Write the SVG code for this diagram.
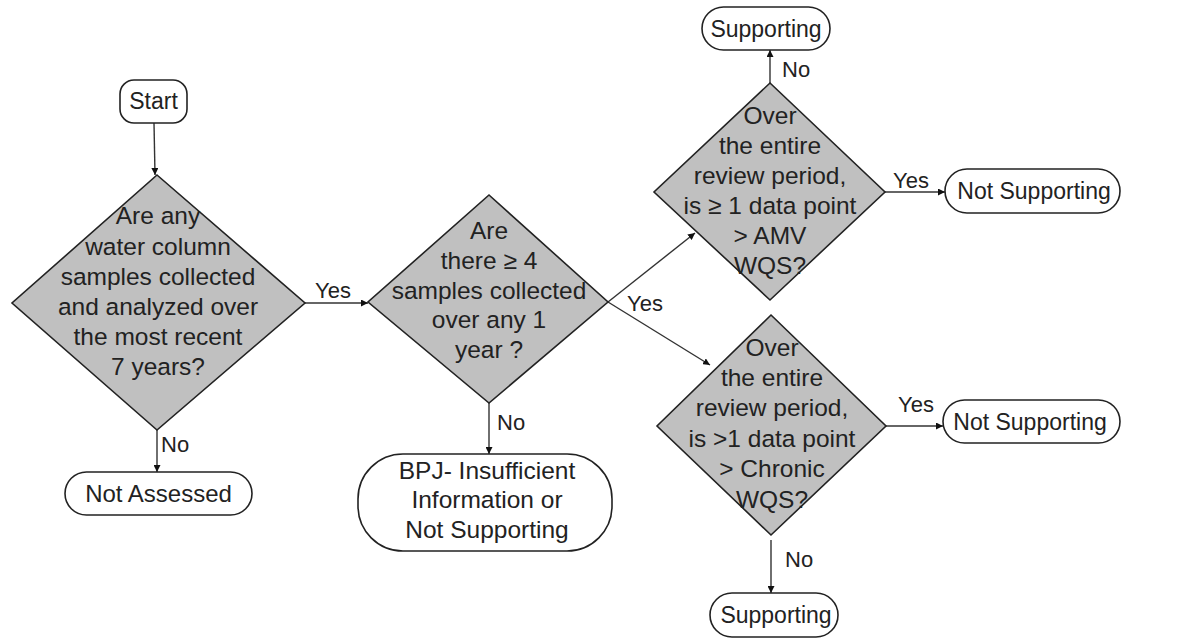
<svg xmlns="http://www.w3.org/2000/svg" width="1182" height="639" viewBox="0 0 1182 639">
<style>
.t{font-family:"Liberation Sans",Arial,sans-serif;fill:#222;text-anchor:middle}
.dt{font-size:24.5px}
.tt{font-size:23px}
.lb{font-family:"Liberation Sans",Arial,sans-serif;fill:#222;font-size:22px}
.dia{fill:#c0c0c0;stroke:#222;stroke-width:1.6}
.term{fill:#fff;stroke:#222;stroke-width:1.6}
.con{stroke:#333;stroke-width:1.4;fill:none;marker-end:url(#ah)}
</style>
<defs>
<marker id="ah" viewBox="0 0 10 10" refX="10" refY="5" markerWidth="7" markerHeight="7" markerUnits="userSpaceOnUse" orient="auto">
<path d="M0,0 L10,5 L0,10 z" fill="#111"/>
</marker>
</defs>
<rect width="1182" height="639" fill="#fff"/>
<g id="connectors">
<line class="con" x1="154" y1="123" x2="155" y2="175"/>
<line class="con" x1="157" y1="430" x2="157" y2="472"/>
<line class="con" x1="305" y1="303" x2="368" y2="303"/>
<line class="con" x1="489" y1="403" x2="489" y2="454"/>
<line class="con" x1="608" y1="302" x2="695" y2="233"/>
<line class="con" x1="608" y1="302" x2="710" y2="365"/>
<line class="con" x1="770" y1="83" x2="770" y2="50"/>
<line class="con" x1="885" y1="192" x2="945" y2="192"/>
<line class="con" x1="886" y1="426" x2="943" y2="426"/>
<line class="con" x1="771" y1="540" x2="771" y2="593"/>
<text class="lb" x="161" y="452">No</text>
<text class="lb" x="315" y="298">Yes</text>
<text class="lb" x="497" y="430">No</text>
<text class="lb" x="627" y="311">Yes</text>
<text class="lb" x="782" y="77">No</text>
<text class="lb" x="893" y="188">Yes</text>
<text class="lb" x="898" y="412">Yes</text>
<text class="lb" x="785" y="567">No</text>
</g>
<g id="start">
<rect class="term" x="120" y="80" width="67" height="43" rx="14"/>
<text class="t tt" x="153.5" y="109">Start</text>
</g>
<g id="q1">
<polygon class="dia" points="157,175 305,303 157,430 12,303"/>
<text class="t dt" x="158" y="224">Are any</text>
<text class="t dt" x="158" y="255">water column</text>
<text class="t dt" x="158" y="285">samples collected</text>
<text class="t dt" x="158" y="315">and analyzed over</text>
<text class="t dt" x="158" y="345">the most recent</text>
<text class="t dt" x="158" y="375">7 years?</text>
</g>
<g id="notassessed">
<rect class="term" x="65" y="472" width="187" height="43" rx="21.5"/>
<text class="t" style="font-size:24px" x="158.5" y="502">Not Assessed</text>
</g>
<g id="q2">
<polygon class="dia" points="489,195 608,302 489,403 368,302"/>
<text class="t dt" x="489" y="239">Are</text>
<text class="t dt" x="489" y="269">there ≥ 4</text>
<text class="t dt" x="489" y="299">samples collected</text>
<text class="t dt" x="489" y="328">over any 1</text>
<text class="t dt" x="489" y="358">year ?</text>
</g>
<g id="bpj">
<rect class="term" x="358" y="454" width="254" height="97" rx="45"/>
<text class="t dt" x="487" y="479">BPJ- Insufficient</text>
<text class="t dt" x="487" y="508">Information or</text>
<text class="t dt" x="487" y="538">Not Supporting</text>
</g>
<g id="q3">
<polygon class="dia" points="770,83 885,192 770,300 654,192"/>
<text class="t dt" x="770" y="124">Over</text>
<text class="t dt" x="770" y="154">the entire</text>
<text class="t dt" x="770" y="184">review period,</text>
<text class="t dt" x="770" y="214">is ≥ 1 data point</text>
<text class="t dt" x="770" y="244">&gt; AMV</text>
<text class="t dt" x="770" y="274">WQS?</text>
</g>
<g id="supporting1">
<rect class="term" x="702" y="7" width="128" height="43" rx="21.5"/>
<text class="t tt" x="766" y="37">Supporting</text>
</g>
<g id="notsupporting1">
<rect class="term" x="945" y="169" width="175" height="44" rx="22"/>
<text class="t tt" x="1034" y="199">Not Supporting</text>
</g>
<g id="q4">
<polygon class="dia" points="771,315 886,426 771,535 657,426"/>
<text class="t dt" x="772" y="356">Over</text>
<text class="t dt" x="772" y="386">the entire</text>
<text class="t dt" x="772" y="416">review period,</text>
<text class="t dt" x="772" y="447">is &gt;1 data point</text>
<text class="t dt" x="772" y="477">&gt; Chronic</text>
<text class="t dt" x="772" y="508">WQS?</text>
</g>
<g id="notsupporting2">
<rect class="term" x="943" y="400" width="177" height="43" rx="21.5"/>
<text class="t tt" x="1030" y="430">Not Supporting</text>
</g>
<g id="supporting2">
<rect class="term" x="710" y="593" width="128" height="44" rx="22"/>
<text class="t tt" x="776" y="623">Supporting</text>
</g>
</svg>
